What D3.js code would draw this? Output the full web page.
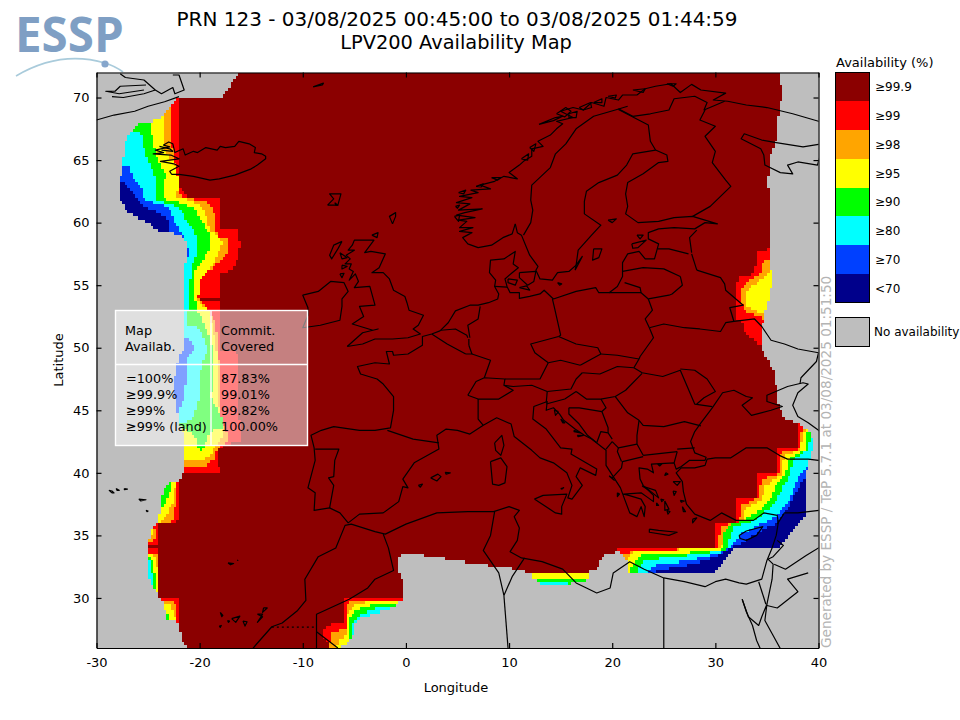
<!DOCTYPE html>
<html>
<head>
<meta charset="utf-8">
<script src="https://cdn.jsdelivr.net/npm/d3@7"></script>
<style>
  html, body { margin: 0; padding: 0; background: #fff; }
  text { font-family: "DejaVu Sans", sans-serif; fill: #000; }
</style>
</head>
<body>
<svg id="chart" width="960" height="720"></svg>
<script>
// Legend
const legendLabels = ["≥99.9", "≥99", "≥98", "≥95", "≥90", "≥80", "≥70", "<70"];
const legendColors = ["#8b0000", "#ff0000", "#ffa500", "#ffff00", "#00ff00", "#00ffff", "#0040ff", "#00008b"];
const noDataColor = "#bebebe";

// Summary table
const tableAvail = ["=100%", "≥99.9%", "≥99%", "≥99% (land)"];
const tableCommit = ["87.83%", "99.01%", "99.82%", "100.00%"];

// Axis ticks
const lonTicks = [-30, -20, -10, 0, 10, 20, 30, 40];
const latTicks = [30, 35, 40, 45, 50, 55, 60, 65, 70];

// Outline of the area with availability, [lon, lat]
const coverage = [[-16.2,72],[-17.8,70],[-22,70],[-22.6,69.6],[-23.5,68.5],[-24.9,68],[-26,68],[-26.7,67.2],[-27.2,66.4],[-27.5,64.6],[-27.7,63.4],[-27.7,61.9],[-26.9,60.8],[-25,60],[-24,59.4],[-23,59.2],[-21.8,59],[-21.3,58.4],[-21.3,57.2],[-21.5,56],[-21.5,53.8],[-21.4,53],[-21.5,50],[-22,49.2],[-22.4,47.6],[-22.4,46],[-22,44.2],[-21.5,42.8],[-21.6,40],[-22.1,39.15],[-23.1,39.15],[-23.7,38.2],[-23.8,37],[-24,36.2],[-24.2,36],[-24.8,35.2],[-25,34],[-25.1,33.2],[-25,31.6],[-24.4,30.8],[-24,30.2],[-23.7,29.9],[-23.1,28.2],[-22,28.1],[-21.8,26.8],[-21.1,26],[-6.6,26],[-5.8,26.4],[-5,27.2],[-5,28],[-4.4,28.4],[-2.7,28.8],[-1.2,29.2],[-0.3,29.9],[-0.2,30],[-0.3,31.2],[-0.8,32.4],[-0.7,33.2],[0,33.6],[2.4,33.3],[6.3,32.8],[10.2,32.4],[12.1,32],[12.3,31.6],[13.1,31.1],[15.8,31.1],[17.7,31.4],[17.7,32.1],[18.7,32.4],[18.9,33.2],[19.7,33.6],[20.2,33.6],[20.6,33.9],[20.9,33.6],[21.4,32.9],[21.4,32],[29.9,32],[31.8,33.9],[36.1,33.9],[38.8,36.8],[38.8,40],[39.1,41],[39.6,42.4],[39.1,43.2],[38.1,44],[36.7,44.3],[36.2,45.2],[35.9,46.8],[35.8,48],[34.7,49.6],[34.4,50.6],[34.7,52.4],[35.6,55.4],[35.3,56.4],[35.3,60.2],[35.1,63.2],[35.2,65.2],[35.9,66.6],[36.2,69.2],[36.6,70.4],[36.1,72]];

// Areas below each availability level, [lon, lat] corners
const redAreas = [
  [[-22,70.2],[-22,63],[-21,62],[-18.1,61.9],[-18.1,59.6],[-16.3,59.5],[-16.1,58.4],[-16.2,57.2],[-16.8,56.2],[-18,56],[-18.1,54.1],[-20.1,54.1],[-20.1,53.8],[-18.1,53.8],[-18,53],[-17.9,49.8],[-16.2,49.6],[-16.1,42.6],[-18.2,42],[-18.1,40],[-30,40],[-30,70.2]],
  [[-22.1,39.2],[-22.1,36.2],[-22.3,36],[-30,36],[-30,39.2]],
  [[-24,36.1],[-24,34.2],[-30,34.2],[-30,36.1]],
  [[-24,33.9],[-24,30],[-30,30],[-30,33.9]],
  [[-22,29.9],[-22,28.1],[-30,28.1],[-30,29.9]],
  [[-5.9,29.9],[0.5,29.9],[0.5,26],[-7.2,26],[-7.9,26.7],[-7.9,27.5],[-7.3,27.9],[-5.9,27.9]],
  [[38.1,44.2],[38.1,41.9],[36,41.9],[36,39.9],[34,39.9],[33.9,37.9],[32.1,37.9],[32.1,35.9],[30,35.9],[30,33.9],[20.5,33.9],[20.5,31],[41,31],[41,44.2]],
  [[35.2,57.9],[34.1,57.75],[33.9,56.7],[33.8,55.9],[32.15,55.7],[32,53.3],[32,52.3],[32.6,52.1],[32.8,51.4],[34,50.3],[34.4,50.2],[34.7,50],[37,50],[37,57.9]]
];
const orangeAreas = [
  [[-22.7,70],[-22.7,66.6],[-22.5,65.2],[-22.2,64.2],[-22.1,62.9],[-22.1,62.6],[-21.6,62],[-20.6,61.9],[-19.2,61.6],[-18.6,60.8],[-18.6,59.6],[-18.1,58.8],[-17.2,58.6],[-17.2,57.6],[-18.1,56.8],[-19.1,56.2],[-19.9,55.4],[-20.2,54.2],[-20,53.8],[-19.4,53.2],[-18.5,52.2],[-18.2,49.8],[-18,47.4],[-18,44.6],[-17.4,43.4],[-17.2,42.5],[-18.3,42],[-18.5,41.2],[-19.4,40.6],[-20.9,40.5],[-30,40.5],[-30,70]],
  [[-22.15,39.2],[-22.3,37.5],[-22.5,36.6],[-22.7,36.1],[-30,36.1],[-30,39.2]],
  [[-24.15,35.6],[-24.3,34.8],[-24.7,34.4],[-30,34.4],[-30,35.6]],
  [[-24.1,33.5],[-24,33.1],[-24,30.2],[-30,30.2],[-30,33.5]],
  [[-22.4,29.7],[-22.2,28.5],[-22.2,28.1],[-30,28.1],[-30,29.7]],
  [[-5.7,29.4],[-5.3,29.7],[0.5,29.7],[0.5,26],[-7.5,26],[-7.4,26.5],[-7.1,27.2],[-6.3,27.4],[-5.7,27.4]],
  [[38.4,43.8],[38.3,41.9],[36.5,41.7],[36.2,41.3],[36.2,39.9],[34.5,39.5],[34.2,38],[32.5,37.4],[32.3,36.1],[30.5,35.7],[30.2,33.9],[22.3,33.85],[22.1,33.7],[21,33.35],[20.8,32.7],[20.8,31],[41,31],[41,43.8]],
  [[35.4,57.2],[34.7,56.9],[34.4,55.9],[33.3,55.4],[32.5,54.7],[32.4,53.8],[33,52.9],[33.9,52.6],[34.7,52.3],[34.7,51.7],[37,51.7],[37,57.2]]
];
const yellowAreas = [
  [[-23.5,68.4],[-23.5,66],[-23,65.2],[-22.5,64.8],[-22.1,63.6],[-22.1,62.6],[-22.4,62],[-20.6,61.8],[-19.9,61.2],[-19.2,60.4],[-19.1,59.5],[-18.6,59.2],[-17.8,58.4],[-18.6,56.8],[-19.9,55.6],[-20.1,54.4],[-20.3,53.8],[-19.1,53],[-18.4,50.2],[-18.2,45.8],[-17.9,43.8],[-17.7,43],[-18.7,42],[-18.9,41.4],[-19.9,40.9],[-20.9,41],[-30,41],[-30,68.4]],
  [[-22.3,39.2],[-22.6,37.5],[-23.3,36.6],[-23.9,36.1],[-30,36.1],[-30,39.2]],
  [[-24.35,35.6],[-24.5,35],[-30,35],[-30,35.6]],
  [[-24.6,33.5],[-24.25,33],[-24.05,32.3],[-24,30.2],[-30,30.2],[-30,33.5]],
  [[-22.9,29.5],[-22.4,28.8],[-22.3,28.1],[-30,28.1],[-30,29.5]],
  [[-5.75,28.5],[-5.3,29.2],[-4.6,29.5],[-3.5,29.75],[0.5,29.75],[0.5,26],[-6.8,26],[-6.5,26.6],[-5.8,27]],
  [[11,31.95],[18,31.95],[18,30],[11,30]],
  [[38.7,43.5],[38.2,41.8],[36.7,41.4],[36.4,39.8],[34.9,39],[34.5,37.85],[32.8,37],[32.6,36.1],[30.9,35.4],[30.5,33.9],[22.3,33.85],[21.65,33.3],[21.4,33],[21.4,31],[41,31],[41,43.5]],
  [[35.45,56.5],[35,55.8],[34.25,55.4],[33.3,54.7],[32.9,54],[33.1,53.3],[33.9,52.95],[34.7,52.6],[37,52.6],[37,56.5]]
];
const greenAreas = [
  [[-24.9,68],[-24.5,66.4],[-24,64.8],[-23.3,64],[-23.5,62.6],[-23.5,61.9],[-22.5,61.8],[-20.6,61.2],[-19.4,59.6],[-19.1,59.2],[-18.9,58],[-19.7,57],[-20.4,56.2],[-20.5,54.4],[-20.2,53],[-19.2,51.2],[-18.7,49.8],[-18.9,46],[-17.7,44.2],[-17.7,43.6],[-18.7,43.6],[-19.2,42.8],[-19.8,41.8],[-20,41.8],[-20.4,42.8],[-21.2,43.4],[-30,43.4],[-30,68]],
  [[-22.8,39.2],[-22.8,38.6],[-23.3,37.5],[-23.8,37],[-30,37],[-30,39.2]],
  [[-25,33.4],[-24.6,33],[-24.35,32],[-24.3,31],[-24.2,30.4],[-30,30.4],[-30,33.4]],
  [[-23.5,29.1],[-22.9,28.4],[-22.6,28.1],[-30,28.1],[-30,29.1]],
  [[-5.8,26.5],[-5.5,26.5],[-5.5,28.4],[-5,28.9],[-4.2,29.2],[-3,29.5],[0.5,29.6],[0.5,26],[-5.8,26]],
  [[11,31.6],[17.8,31.6],[17.8,30],[11,30]],
  [[38.9,43.4],[38.7,41.9],[37.15,41.1],[36.8,39.9],[35.7,38.7],[35.05,37.5],[33.4,36.5],[31.3,35.8],[30.85,35.1],[30.7,34.05],[30.2,33.7],[22.8,33.5],[22,32.7],[21.6,31.9],[21.6,31],[41,31],[41,43.4]]
];
const cyanAreas = [
  [[-25.7,67.2],[-25.5,66.4],[-25,65],[-24.2,63.4],[-24.2,61.9],[-22.1,61.2],[-20.7,59.6],[-20.4,59],[-20.1,58],[-20.6,56.8],[-20.9,55.4],[-21,53.6],[-21.2,52.8],[-21.3,51.8],[-20.1,51.6],[-19.2,50],[-19.9,48.2],[-20.1,46],[-20.2,45.2],[-20.9,44.2],[-22,44],[-30,44],[-30,67.2]],
  [[-23.3,39.2],[-23.6,38.2],[-30,38.2],[-30,39.2]],
  [[-25,33.2],[-24.9,33],[-24.6,32],[-24.5,30.9],[-30,30.9],[-30,33.2]],
  [[-5.2,26.8],[-5.2,28],[-4.6,28.6],[-3.5,29],[-2,29.3],[0.5,29.4],[0.5,26.8]],
  [[11,31.3],[15.8,31.3],[15.8,30],[11,30]],
  [[39.25,43.1],[39,41.9],[37.5,40.9],[37.15,39.8],[36.2,38.3],[35.5,37.3],[33.8,36.2],[31.8,35.7],[31.35,34.7],[31.1,33.85],[28.75,33.5],[23.1,33],[22.45,32.3],[22.3,31.8],[22.3,31],[41,31],[41,43.1]]
];
const blueAreas = [
  [[-26.9,64.6],[-26.4,63.6],[-25.4,62.6],[-25.4,61.9],[-23,61.2],[-22.1,59.6],[-21.4,58.6],[-21,57.8],[-21.1,57.2],[-30,57.2],[-30,64.6]],
  [[-21.5,50.8],[-20.8,50.6],[-20.4,50],[-21.3,49],[-21.3,47.4],[-21.5,46],[-22.1,44.8],[-30,44.8],[-30,50.8]],
  [[-2.6,28.9],[-1.5,29.1],[-0.8,29.4],[0.5,29.4],[0.5,28],[-2.6,28]],
  [[39.5,42.2],[39.1,40.9],[38,39.5],[37.15,37.9],[36.2,36.7],[34.4,35.9],[32.5,35.1],[31.8,34.3],[30.7,33.65],[27.6,33],[24.1,32.6],[23.3,31.9],[23.3,31],[41,31],[41,42.2]]
];
const navyAreas = [
  [[-27.2,63.2],[-26.5,62.4],[-25.9,61.8],[-25.4,61.2],[-24.4,61],[-23,60.2],[-22.9,59.2],[-30,59.2],[-30,63.2]],
  [[39,40.6],[38.8,39.8],[37.6,38.1],[36.7,36.7],[35.7,35.9],[33.8,35],[31.8,34.1],[30.2,33.3],[28,32.75],[25,32.3],[23.2,31.9],[23.2,31],[41,31],[41,40.6]]
];

// Coastlines, [lon, lat]
const coastLines = [
  // Greenland
  [[-30,68.2],[-28.3,68.6],[-26.3,68.9],[-25,69.3],[-23.4,69.66],[-22,70.07]],
  [[-27.7,71.9],[-27.2,71.6],[-25.4,71.4],[-24.3,70.6],[-23.7,70.3],[-22.6,70.8],[-22.4,70.3],[-21.5,70.6],[-22,71.8],[-22.6,71.8]],
  [[-25.2,71],[-27.7,70.9],[-28.2,70.5],[-29.1,70.5],[-27.8,70.3],[-25.4,70.6]],
  [[-28.5,70.07],[-27.4,70],[-25.4,70.3],[-24.3,70.6]],
  // Jan Mayen
  [[-9,70.85],[-8,71.15],[-8.1,71],[-9,70.85]],
  // Iceland
  [[-22.7,63.85],[-22,63.85],[-20.6,63.7],[-19,63.4],[-18.1,63.5],[-16.6,63.8],[-15,64.3],[-14.4,64.6],[-13.6,65.1],[-13.6,65.3],[-14,65.5],[-14.7,65.6],[-14.6,66],[-15.2,66.3],[-16.2,66.5],[-16.6,66.1],[-17.5,66],[-18,66.1],[-18.3,65.8],[-19.4,66],[-20.2,65.6],[-20.6,65.7],[-21.4,65.4],[-21.6,65.9],[-22.4,65.6],[-22.6,66.3],[-23,66.45],[-23.5,66.2],[-22.9,66.05],[-24.3,65.8],[-23.5,65.6],[-24.5,65.5],[-22.8,65.4],[-22,65.1],[-23.8,64.9],[-22.5,64.7],[-22,64.5],[-22.9,64.1],[-22.7,63.85]],
  [[-23.9,66.1],[-22.9,65.9],[-22.6,65.7],[-23.7,65.8]],
  // Faroes, Shetland, Orkney
  [[-7.6,61.4],[-7,61.9],[-7.4,62.3],[-6.3,62.3],[-6.6,61.4],[-7.6,61.4]],
  [[-6.9,61.6],[-6.6,61.4],[-6.8,61.4],[-6.9,61.6]],
  [[-1.3,59.9],[-1,60.5],[-1,60.8],[-1.6,60.5],[-1.3,59.9]],
  [[-3.3,59],[-2.7,59.2],[-2.8,58.8],[-3.3,59]],
  // Great Britain
  [[-5.7,50.1],[-4.2,50.3],[-3,50.7],[-1.3,50.7],[0.2,50.8],[1.4,51.1],[0.7,51.5],[1.2,51.8],[1.7,52.6],[0.3,53],[0.1,53.6],[-0.1,54.1],[-1.2,54.6],[-1.6,55.5],[-2.2,56],[-3.3,56],[-2.6,56.4],[-2,57.5],[-3.4,57.7],[-4,57.6],[-3.1,58.6],[-5,58.6],[-5.2,58.2],[-5.6,57.8],[-5,57.8],[-5.8,57.4],[-5.4,57.1],[-5.9,56.7],[-5.3,56.7],[-5.5,56.3],[-5.1,56.1],[-5.5,55.4],[-4.9,55.9],[-4.6,55.3],[-5,54.8],[-3.5,54.9],[-3.2,54],[-3,53.4],[-4.5,53.3],[-4.1,52.5],[-5.2,51.9],[-3.2,51.4],[-2.7,51.5],[-4.2,51.2],[-5.7,50.1]],
  // Hebrides and Skye
  [[-6.2,58.5],[-7,58.2],[-7.4,57.4],[-7.2,57.1],[-6.6,57.9],[-6.2,58.5]],
  [[-6.4,57.6],[-5.7,57.2],[-6.2,57.1],[-6.4,57.6]],
  [[-6.2,56.6],[-5.7,56.5],[-6.2,56.3],[-6.2,56.6]],
  [[-6.4,55.9],[-6,55.95],[-6.2,55.6],[-6.4,55.9]],
  // Ireland
  [[-6.2,53.3],[-6.4,52.2],[-8.3,51.8],[-10,51.6],[-9.5,52.6],[-9.5,53.2],[-10,54.2],[-8.5,54.5],[-7.3,55.3],[-6,55.2],[-5.6,54.5],[-6.2,53.9],[-6.2,53.3]],
  // Norway, Kola and the White Sea
  [[10.6,59.9],[10.3,59.1],[9.4,58.8],[8.3,58.2],[7,58],[6,58.3],[5.5,58.8],[6.4,59.2],[5.2,59.3],[6.5,59.6],[5.2,59.6],[5.9,60.1],[5.1,60.2],[6.7,60.4],[4.9,60.6],[5.7,60.8],[7.4,61.1],[5.1,61],[6.2,61.5],[4.9,61.6],[6.4,62],[5.2,62.1],[7,62.4],[6.3,62.6],[8.2,62.7],[7.2,63],[8.6,63.3],[9.5,63.7],[10.8,63.5],[10,64],[11,64.6],[11.4,64.9],[12.2,65.3],[12.2,65.9],[13.3,66.1],[12.8,66.5],[14,67],[14.6,67.5],[15.2,67.9],[14.6,68.1],[16.2,68.4],[15,68.9],[16.2,69.2],[17.2,69],[18,69.6],[19.2,69.3],[19.4,70],[20.6,69.8],[21,70.2],[22.4,70.2],[23.2,70.7],[24.2,70.9],[25.7,71.1],[26.6,70.4],[27.7,71.05],[28.6,70.6],[31,70.35],[29.8,69.8],[31.2,69.7],[33,69.4],[35,69.2],[37.5,68.7],[40,68.1],[41,67.6]],
  [[41,66.2],[40,66.25],[38.5,66.05],[35.9,66.4],[34.5,66.6],[32.8,67.1],[32.5,66.7],[34.4,65.9],[34.7,65.4],[34.8,64.6],[36.3,64],[37.5,63.9],[37,64.6],[38,64.85],[39.9,64.6],[40.2,65.5],[41,66.2]],
  // Islands off Norway
  [[12.9,67.85],[14.5,68.4],[15.2,68.5],[14.3,68.15],[12.9,67.85]],
  [[14.6,68.7],[15.5,69.2],[16,68.9],[15.4,68.45],[14.6,68.7]],
  [[15.8,68.7],[16.6,68.9],[16.5,68.4],[15.8,68.4],[15.8,68.7]],
  [[16.8,69.2],[17.9,69.6],[18,69.2],[17.2,69],[16.8,69.2]],
  [[18.2,69.6],[19,69.9],[19,69.6],[18.2,69.6]],
  [[19.6,70.1],[20.4,70.2],[20.3,69.95],[19.6,70.1]],
  [[22,70.6],[23.2,70.7],[23,70.4],[22,70.6]],
  [[25.3,71.1],[26.2,71.1],[25.9,70.9],[25.3,71.1]],
  [[8.3,63.6],[9.2,63.6],[8.9,63.4],[8.3,63.6]],
  [[12,66],[12.6,66.3],[12.4,65.7],[12,66]],
  [[11.2,65.1],[11.9,65.5],[11.8,65],[11.2,65.1]],
  [[4.8,61.3],[5.2,61.4],[5,61.15],[4.8,61.3]],
  [[4.7,60.5],[5.2,60.6],[5.1,60.1],[4.7,60.5]],
  [[5.1,62.4],[5.8,62.6],[5.6,62.3],[5.1,62.4]],
  [[6.8,62.9],[7.5,63.1],[7.3,62.85],[6.8,62.9]],
  // Sweden, Finland and the Baltic shore, round Denmark to Spain, Italy and Greece
  [[10.6,59.9],[10.8,59.2],[11.2,59],[11.7,58],[12,57.4],[12.8,56.5],[12.6,56.2],[13,55.5],[14.2,55.4],[14.7,56],[15.8,56.1],[16.5,56.6],[16.7,57.8],[18,59],[18.9,59.8],[17.3,60.7],[17.3,61.7],[17.5,62.5],[18.7,63.2],[20.5,63.8],[21.4,64.6],[22,65.5],[24.2,65.8],[25.3,65.4],[25.4,64.9],[24.5,64.8],[23,63.9],[21.5,63.2],[21.3,62.3],[21.5,61.3],[21.3,60.7],[22.5,60],[24.5,60.1],[26,60.4],[27.8,60.5],[29,60.2],[30.2,59.9],[29,60],[28,59.5],[26,59.6],[24.5,59.5],[23.5,59.2],[23.5,58.7],[24.5,58.3],[24.1,57.1],[23.2,57.1],[22.6,57.7],[21.5,57.5],[21,56.8],[21,55.7],[20.5,54.9],[19.7,54.4],[18.7,54.4],[18.4,54.8],[16.5,54.5],[14.3,53.9],[13.4,54.6],[13,54.3],[12,54.1],[11,53.95],[11,54.4],[10.1,54.4],[9.8,54.9],[9.6,55.5],[10.3,56],[10.9,56.4],[10.4,56.7],[10.6,57.7],[9.5,57.1],[8.2,57],[8.1,56],[8.7,55.4],[8.6,54.9],[9,54.3],[8.9,53.9],[8,53.6],[7,53.4],[6.2,53.4],[4.8,52.95],[4.1,52],[3.3,51.35],[2.5,51.1],[1.6,50.9],[1.6,50.2],[0.2,49.5],[-1.2,49.4],[-1.3,49.7],[-1.9,49.7],[-1.6,48.7],[-3,48.8],[-4.7,48.5],[-4.4,47.9],[-2.8,47.5],[-2.2,47.1],[-1.2,46.1],[-1.2,45],[-1.5,43.6],[-3,43.4],[-4.5,43.4],[-7,43.7],[-8.2,43.4],[-9.2,43],[-8.9,42],[-8.8,41],[-9.5,38.8],[-8.8,38.4],[-8.9,37],[-7.4,37.2],[-6.4,36.8],[-5.6,36],[-4.5,36.7],[-2.2,36.8],[-0.7,37.7],[-0.3,38.9],[0.2,38.8],[-0.3,39.5],[0.8,40.8],[3.2,41.9],[3,43],[3.9,43.5],[5,43.4],[6.2,43.1],[7.5,43.8],[8.8,44.4],[10.2,43.9],[10.5,42.9],[12.2,41.8],[13,41.2],[14.3,40.8],[15.6,40],[16.1,39],[15.7,38],[16.1,37.9],[17.1,39],[16.5,39.7],[16.9,40.4],[18.4,39.8],[18.5,40.3],[16,41.5],[16.1,41.9],[15,42],[13.6,43.5],[12.3,44.3],[12.4,45.3],[13.7,45.7],[13.6,45],[14.3,45.2],[14.9,44.7],[15.3,44.2],[16.4,43.5],[17.3,43],[18,42.7],[19.4,41.8],[19.4,40.6],[20.1,39.7],[20.8,38.8],[21.2,37.9],[21.7,36.8],[22.4,36.5],[22.8,37.3],[23.1,36.5],[23.2,37.3],[22.8,37.9],[21.6,38.2],[21.1,38.3],[22.8,38.4],[23.5,38],[24,37.7],[24,38.2],[23,39],[22.7,39.5],[22.6,40.4],[23.4,40.3],[24,40],[23.8,40.7],[26,40.8],[26.2,40.3],[26.7,40.5],[27.5,41],[29,41],[29.1,41.25],[28,41.6],[27.6,42.5],[28,43.3],[28.6,44],[29.7,45.2],[30.7,46.4],[31.8,46.6],[33,46.1],[33.6,46],[32.6,45.4],[33.5,44.6],[35.4,45],[36.5,45.3],[35,45.7],[35,46.2],[37,46.9],[38.5,47.2],[39,47.1],[38,46.4],[37.5,45.4],[38,44.5],[39,44],[40,43.4],[41,42.7]],
  // Turkey and the Levant, round Africa to the Atlantic
  [[41,41],[40,41],[39,41.1],[37,41.1],[36.2,41.4],[35,42],[33,42],[31.5,41.2],[30,41.2],[29.2,41.1],[29,40.6],[28,40.4],[26.7,40.4],[26.2,40],[26.8,39.3],[26.9,38.5],[27.2,37.5],[28,36.7],[29.5,36.2],[30.6,36.8],[32,36.2],[33.7,36.2],[34.7,36.8],[36,36.6],[36.1,36],[35.9,35],[35.5,34],[35,33],[34.5,31.5],[33,31.1],[32.3,31.2],[31,31.5],[30,31.3],[29,30.9],[27,31.3],[25,31.6],[23.1,32.3],[21.7,32.9],[20.1,32],[19.8,30.8],[18.5,30.4],[16.5,31.2],[15.2,32.3],[13.2,32.9],[11.2,33.2],[10.1,33.7],[10.8,34.6],[11,35.6],[10.5,36.5],[11,37],[10,37.3],[8.5,36.9],[6,36.9],[3,36.8],[0,35.9],[-2,35.1],[-3,35.3],[-5.3,35.9],[-5.9,35.8],[-6.8,34],[-8.5,33.3],[-9.8,31.5],[-9.7,29.8],[-10.5,29],[-12,28],[-13,27.7],[-14.5,26.3],[-14.9,25.9]],
  // Gulf of Suez and Aqaba
  [[32.6,29.9],[33,28.9],[33.6,27.8],[34,26.6],[34.6,25.5]],
  [[32.6,29.9],[33.2,28.5],[34.2,27.8],[34.5,28.5],[35,29.5],[34.8,28.2],[35.6,27],[36.6,25.5]],
  // Danish and Baltic islands
  [[11,56],[12.6,56.1],[12.4,55.3],[11.8,55],[11,55.6],[11,56]],
  [[9.9,55.5],[10.8,55.4],[10.6,55],[9.9,55.2],[9.9,55.5]],
  [[11,54.8],[12,54.6],[11.7,54.95],[11,54.8]],
  [[14.7,55.2],[15.1,55.1],[14.9,55],[14.7,55.2]],
  [[18.2,57.9],[19,57.9],[18.7,57.2],[18.1,57],[18.2,57.9]],
  [[16.4,56.2],[17.1,57.3],[16.5,56.6],[16.4,56.2]],
  [[21.9,58.3],[23.3,58.6],[22.5,58],[22,57.95],[21.9,58.3]],
  [[22.4,59],[23,59],[22.7,58.7],[22.4,59]],
  [[19.6,60.2],[20.4,60.3],[20,60],[19.6,60.2]],
  // Mediterranean islands
  [[12.45,37.9],[13.3,38.2],[15.6,38.3],[15.1,37.3],[15.1,36.7],[14.5,36.8],[12.45,37.9]],
  [[8.2,40.9],[9.2,41.2],[9.8,40.5],[9.6,39.2],[9,39],[8.4,39.1],[8.2,40.9]],
  [[8.6,42.4],[9.3,43],[9.5,42.2],[9.2,41.4],[8.7,41.8],[8.6,42.4]],
  [[2.4,39.6],[3.1,39.9],[3.4,39.7],[3,39.35],[2.4,39.6]],
  [[3.8,40.05],[4.3,40],[3.9,39.9],[3.8,40.05]],
  [[1.2,39],[1.6,39.1],[1.4,38.85],[1.2,39]],
  [[23.6,35.5],[24.5,35.4],[26.3,35.25],[25.5,35],[23.6,35.25],[23.6,35.5]],
  [[32.3,35],[33,35.35],[34.6,35.7],[34,35],[33,34.6],[32.4,34.75],[32.3,35]],
  [[22.9,38.95],[24.2,38.6],[24.5,38],[23.6,38.6],[22.9,38.95]],
  [[25.9,39.3],[26.6,39.3],[26.3,39],[25.9,39.3]],
  [[25.9,38.55],[26.2,38.5],[26,38.2],[25.9,38.55]],
  [[26.6,37.8],[27,37.75],[26.7,37.65],[26.6,37.8]],
  [[27.8,36.3],[28.2,36.4],[27.8,36],[27.8,36.3]],
  [[25.1,37.75],[25.5,37.1],[25.1,37],[25.1,37.75]],
  [[24.7,37.9],[25,37.85],[24.8,37.7],[24.7,37.9]],
  [[25.3,37],[25.6,36.9],[25.4,36.7],[25.3,37]],
  [[24.3,37.6],[24.5,37.4],[24.3,37.4],[24.3,37.6]],
  [[24.4,40.7],[24.8,40.7],[24.6,40.55],[24.4,40.7]],
  [[25.2,40],[25.4,39.9],[25.1,39.8],[25.2,40]],
  [[26.8,37.3],[27.1,36.9],[26.9,36.9],[26.8,37.3]],
  [[19.7,39.75],[20,39.6],[20.2,39.4],[19.7,39.75]],
  [[20.5,38.4],[20.7,38.3],[20.5,38.1],[20.5,38.4]],
  [[16.3,43.4],[16.9,43.2],[16.3,43.3],[16.3,43.4]],
  [[16.6,43],[17.2,43],[16.7,42.9],[16.6,43]],
  [[15,44.3],[15.4,44],[15.2,44],[15,44.3]],
  [[14.8,44.9],[14.5,44.6],[14.4,45],[14.8,44.9]],
  [[15,38.75],[15.3,38.8],[15.1,38.7],[15,38.75]],
  // Atlantic islands
  [[-28.8,38.6],[-28.5,38.55],[-28.3,38.4],[-28.5,38.4],[-28.8,38.6]],
  [[-27.3,38.75],[-27,38.7],[-27.3,38.65],[-27.3,38.75]],
  [[-28.1,38.75],[-27.8,38.6],[-28,38.6],[-28.1,38.75]],
  [[-25.9,37.9],[-25.2,37.85],[-25.7,37.75],[-25.9,37.9]],
  [[-25.2,37],[-25,36.95],[-25.1,36.9],[-25.2,37]],
  [[-17.25,32.8],[-16.7,32.75],[-17,32.65],[-17.25,32.8]],
  [[-16.35,33.05],[-16.3,33],[-16.35,33.05]],
  [[-18,28.85],[-17.75,28.6],[-17.85,28.5],[-18,28.85]],
  [[-18.1,27.75],[-17.9,27.8],[-18,27.65],[-18.1,27.75]],
  [[-17.3,28.2],[-17.1,28.15],[-17.2,28.05],[-17.3,28.2]],
  [[-16.9,28.35],[-16.1,28.55],[-16.5,28.05],[-16.9,28.35]],
  [[-15.8,28.15],[-15.4,28.1],[-15.6,27.75],[-15.8,28.15]],
  [[-14.4,28.7],[-13.9,28.7],[-14.4,28.05],[-13.9,28.5],[-14.4,28.7]],
  [[-13.8,29.2],[-13.45,29.2],[-13.9,28.85],[-13.8,29.2]]
];

// Country borders, [lon, lat]
const borderLines = [
  [[11.4,59],[12.1,60],[12.3,61],[12.1,61.8],[12.2,63],[14,64.4],[14.5,65.5],[15.5,66.3],[16.5,67.5],[18.2,68.5],[20.3,69],[21.5,69.3]],
  [[20.6,69.1],[22,68.5],[23.7,68.7],[25.5,69],[26,69.9],[28,70.1],[29.2,69.6],[28.9,69],[30.9,69.7]],
  [[20.6,69.05],[23.5,67.8],[23.7,66.5],[24.2,65.8]],
  [[29,69],[28.5,68.2],[30,67.7],[29,66.9],[30,65.7],[29.7,64.8],[31,63.4],[31.5,62.9],[29.5,61.3],[27.8,60.5]],
  [[28.2,59.4],[27.5,58.8],[27.7,57.6]],
  [[24.4,57.9],[25.5,57.9],[27.4,57.5]],
  [[27.7,57.5],[28.2,56.2]],
  [[21,56.1],[23,56.4],[25,56.3],[26.6,55.7]],
  [[26.6,55.7],[26.8,55],[25.8,54.3],[25.5,54.2],[23.5,53.9]],
  [[19.7,54.4],[22.8,54.4]],
  [[21.2,55.2],[22.7,54.8],[22.8,54.4],[23.5,53.9]],
  [[23.5,53.9],[23.9,53],[23.2,52.3],[23.6,51.6]],
  [[23.6,51.6],[24,50.8],[22.7,49.3],[22.6,49.1]],
  [[23.6,51.6],[25,51.9],[27,51.6],[28.5,51.5],[30.5,51.3],[31,52],[31.8,52.1]],
  [[28.2,56.2],[30.5,55.6],[30.9,55.1],[31,54.6],[32.7,53.4],[31.4,53.2],[31.8,52.1],[33.8,52.3],[34.5,51.7],[35.4,50.6],[36.7,50.3],[38,49.9],[40,49.6],[39.8,48.9],[38.3,47.6],[38.2,47.1]],
  [[14.2,53.9],[14.4,53.2],[14.7,52.1],[15,51],[14.8,50.9]],
  [[14.8,50.9],[12.1,50.3],[12.5,49.6],[13.8,48.8]],
  [[14.8,50.9],[16.5,50.3],[18.6,50],[18.9,49.5]],
  [[13.8,48.8],[15,49],[16.9,48.6]],
  [[16.9,48.6],[18.9,49.5]],
  [[18.9,49.5],[20.5,49.4],[22.6,49.1]],
  [[17.1,48],[18.8,47.9],[20.5,48.5],[22.1,48.4]],
  [[22.1,48.4],[22.6,49.1]],
  [[13.8,48.8],[13,47.5],[10.5,47.5],[9.6,47.5]],
  [[9.5,47],[10.4,46.9],[12.2,47],[13.7,46.5]],
  [[6,46.2],[6.8,47.3],[7.6,47.6],[9.6,47.5],[9.5,47],[10.4,46.6],[9,45.9],[7.8,45.9],[7,45.9],[6,46.2]],
  [[13.7,46.5],[16,46.7],[16.5,47.5],[17.1,48]],
  [[13.7,46.5],[13.6,45.6]],
  [[13.6,45.5],[15.4,45.9],[16.5,46.5]],
  [[16.5,46.5],[17.5,45.9],[18.9,45.9]],
  [[18.9,45.9],[20.3,46.1],[21.3,46.6],[22.9,47.95]],
  [[22.1,48.4],[22.9,48]],
  [[22.9,48],[24.9,47.7],[26.6,48.2],[28,45.5],[29.7,45.3]],
  [[26.6,48.3],[28,48.2],[29.2,47.5],[30,46.5],[28.9,46],[28.2,45.5]],
  [[20.3,46.1],[21.5,44.8],[22.6,44.2]],
  [[22.6,44.2],[23,43.8],[25,43.7],[27,44.1],[28.6,43.75]],
  [[22.6,44.2],[22.4,43],[22.4,42.3],[23,41.4]],
  [[23,41.4],[26.3,41.7]],
  [[26.3,41.9],[28,42]],
  [[26.3,41.7],[26,40.8]],
  [[23,41.3],[21,40.9],[20.9,40.4],[20,39.6]],
  [[20.9,40.9],[20.5,41.7],[20.6,42]],
  [[20,42.5],[19.4,41.9]],
  [[22.4,42.3],[20.6,42],[20,42.5]],
  [[19,44.9],[19.6,43.6],[19.6,43.2]],
  [[18.5,42.4],[18.9,43.3],[19.6,43.2],[20,42.7]],
  [[15.8,45.2],[16.8,45.2],[19,44.9]],
  [[15.8,45.2],[15.8,44.7],[16.8,43.9],[17.6,43],[18.5,42.4]],
  [[18.9,45.9],[19.4,45.2],[19,44.9]],
  [[8.6,54.9],[9.8,54.85]],
  [[7.2,53.3],[7,52.3],[6,51.8],[6.2,50.8]],
  [[3.4,51.4],[4.8,51.5],[5.9,51],[6,50.8]],
  [[6.1,50.7],[6.1,50.2]],
  [[2.5,51.1],[4,50.3],[5.8,49.5]],
  [[6.1,50.2],[6.4,49.5],[5.8,49.5]],
  [[6.4,49.5],[8.2,49],[7.6,47.6]],
  [[7,45.9],[7,44.3],[7.5,43.8]],
  [[-1.8,43.4],[0.7,42.7],[3.2,42.4]],
  [[-8.8,41.9],[-6.5,41.9],[-6.9,41],[-7,39.7],[-7.5,39.6],[-7,39],[-7.4,37.2]],
  [[-2.2,35.1],[-1.7,34],[-1.2,32.2],[-3,31.5],[-3.7,30.8],[-5.5,29.9],[-8.67,28.7],[-8.67,26]],
  [[-8.67,27.3],[-6.6,26]],
  [[8.6,36.9],[8.2,35],[7.5,33.8],[9,32],[9.5,30.2]],
  [[11.5,33.2],[10.3,31.7],[9.5,30.2]],
  [[9.5,30.2],[9.9,26]],
  [[25,31.6],[25,26]],
  [[34.2,31.3],[34.9,29.5]],
  [[35,29.5],[35.5,31.5],[35.6,32.7],[35.1,33.1]],
  [[35.1,33.1],[35.6,33.3],[36.6,34.2],[36,34.6]],
  [[35.7,32.7],[36.8,32.3],[38.8,33.4],[41,34.5]],
  [[39,32],[37,31.5],[38,30.5],[36,29.2],[35,29.4]],
  [[36,35.9],[36.7,36.8],[38,36.8],[41,37.1]]
];
const dashedBorder = [[-13,27.67],[-8.67,27.67]];

const svg = d3.select("#chart");
const margin = { top: 72.5, right: 141.5, bottom: 72, left: 96.5 };
const width = 960 - margin.left - margin.right;
const height = 720 - margin.top - margin.bottom;

const x = d3.scaleLinear().domain([-30, 40]).range([0, width]);
const y = d3.scaleLinear().domain([26, 72]).range([height, 0]);

// Logo
const logo = svg.append("g");
logo.append("path")
  .attr("d", "M16,76 Q60,50 105,63 Q115,66 123,72")
  .attr("fill", "none")
  .attr("stroke", "#a9cbdb")
  .attr("stroke-width", 1.6);
logo.append("circle").attr("cx", 105).attr("cy", 64).attr("r", 3.6).attr("fill", "#86a6cc");
logo.append("text")
  .attr("x", 15)
  .attr("y", 52)
  .style("font-family", "'Open Sans', sans-serif")
  .style("font-weight", 700)
  .style("font-size", "47.5px")
  .style("fill", "#7f9fc4")
  .text("ESSP");

svg.append("text").attr("x", 457).attr("y", 26).attr("text-anchor", "middle")
  .style("font-size", "20px").text("PRN 123 - 03/08/2025 00:45:00 to 03/08/2025 01:44:59");
svg.append("text").attr("x", 456).attr("y", 49).attr("text-anchor", "middle")
  .style("font-size", "19.4px").text("LPV200 Availability Map");

svg.append("defs").append("clipPath").attr("id", "plot-clip")
  .append("rect").attr("width", width).attr("height", height);

const plot = svg.append("g").attr("transform", `translate(${margin.left},${margin.top})`);
plot.append("rect").attr("width", width).attr("height", height).attr("fill", noDataColor);

// Turn the outlines into runs of 0.25 degree cells, one run per row and colour
const levelAreas = [redAreas, orangeAreas, yellowAreas, greenAreas, cyanAreas, blueAreas, navyAreas];
const step = 0.25;
const runs = [];
d3.range(26, 72, step).forEach((lat) => {
  let current = null;
  d3.range(-30, 40, step).forEach((lon) => {
    const p = [lon + step / 2, lat + step / 2];
    let level = -1;
    if (d3.polygonContains(coverage, p)) {
      level = 0;
      levelAreas.forEach((areas, i) => {
        if (areas.some((a) => d3.polygonContains(a, p))) level = i + 1;
      });
    }
    if (current && current.level === level) {
      current.lon1 = lon + step;
    } else {
      current = { level, lat, lon0: lon, lon1: lon + step };
      if (level >= 0) runs.push(current);
    }
  });
});

const map = plot.append("g").attr("clip-path", "url(#plot-clip)");

map.selectAll(".cell")
  .data(runs)
  .enter()
  .append("rect")
  .attr("class", "cell")
  .attr("x", (d) => x(d.lon0))
  .attr("y", (d) => y(d.lat + step))
  .attr("width", (d) => x(d.lon1) - x(d.lon0))
  .attr("height", (d) => y(d.lat) - y(d.lat + step))
  .attr("fill", (d) => legendColors[d.level])
  .attr("shape-rendering", "crispEdges");

const line = d3.line().x((d) => x(d[0])).y((d) => y(d[1]));

map.selectAll(".coast")
  .data(coastLines.concat(borderLines))
  .enter()
  .append("path")
  .attr("class", "coast")
  .attr("d", line)
  .attr("fill", "none")
  .attr("stroke", "#000")
  .attr("stroke-width", 1.2)
  .attr("stroke-linejoin", "round");

map.append("path")
  .attr("d", line(dashedBorder))
  .attr("fill", "none")
  .attr("stroke", "#000")
  .attr("stroke-width", 1.2)
  .attr("stroke-dasharray", "2,3");

// Axes, ticks point into the plot
const noLabel = () => "";
const styleAxis = (g) => {
  g.selectAll("path, line").attr("stroke", "#000").attr("stroke-width", 1.2);
  g.selectAll("text")
    .style("font-family", "'DejaVu Sans', sans-serif")
    .style("font-size", "13px")
    .attr("fill", "#000");
};
plot.append("g").attr("transform", `translate(0,${height})`)
  .call(d3.axisBottom(x).tickValues(lonTicks).tickSize(-5).tickSizeOuter(0).tickPadding(10).tickFormat((d) => String(d)))
  .call(styleAxis);
plot.append("g")
  .call(d3.axisTop(x).tickValues(lonTicks).tickSize(-5).tickSizeOuter(0).tickFormat(noLabel))
  .call(styleAxis);
plot.append("g")
  .call(d3.axisLeft(y).tickValues(latTicks).tickSize(-5).tickSizeOuter(0).tickPadding(7).tickFormat((d) => String(d)))
  .call(styleAxis);
plot.append("g").attr("transform", `translate(${width},0)`)
  .call(d3.axisRight(y).tickValues(latTicks).tickSize(-5).tickSizeOuter(0).tickFormat(noLabel))
  .call(styleAxis);

svg.append("text").attr("x", 456).attr("y", 692).attr("text-anchor", "middle")
  .style("font-size", "13px").text("Longitude");
svg.append("text").attr("transform", "translate(63,360) rotate(-90)").attr("text-anchor", "middle")
  .style("font-size", "13px").text("Latitude");

svg.append("text")
  .attr("transform", "translate(831,648) rotate(-90)")
  .style("font-size", "13.6px")
  .style("fill", "#b4b4b4")
  .text("Generated by ESSP / TeP 5.7.1 at 03/08/2025 01:51:50");

// Summary table on top of the map
const table = svg.append("g");
table.append("rect")
  .attr("x", 115.5).attr("y", 310.5).attr("width", 192).attr("height", 135)
  .attr("fill", "#fff").attr("fill-opacity", 0.5)
  .attr("stroke", "#fff").attr("stroke-width", 1.4);
table.append("line").attr("x1", 115.5).attr("x2", 307.5).attr("y1", 364.5).attr("y2", 364.5)
  .attr("stroke", "#fff").attr("stroke-width", 1.4);
table.append("line").attr("x1", 211).attr("x2", 211).attr("y1", 310.5).attr("y2", 445.5)
  .attr("stroke", "#fff").attr("stroke-width", 1.4);

const tableText = (tx, ty, s) => table.append("text").attr("x", tx).attr("y", ty).style("font-size", "12.8px").text(s);
tableText(125, 335, "Map");
tableText(125, 351, "Availab.");
tableText(221, 335, "Commit.");
tableText(221, 351, "Covered");
tableAvail.forEach((s, i) => tableText(126, 383 + i * 16, s));
tableCommit.forEach((s, i) => tableText(221, 383 + i * 16, s));

// Legend
const legendY = d3.scaleBand().domain(legendLabels).range([72.5, 302.5]);
const legend = svg.append("g");
legend.append("text").attr("x", 836).attr("y", 67).style("font-size", "13px").text("Availability (%)");
legend.selectAll(".swatch")
  .data(legendLabels)
  .enter()
  .append("rect")
  .attr("class", "swatch")
  .attr("x", 835.5)
  .attr("y", (d) => legendY(d))
  .attr("width", 34)
  .attr("height", legendY.bandwidth())
  .attr("fill", (d, i) => legendColors[i])
  .attr("shape-rendering", "crispEdges");
legend.append("rect").attr("x", 835.5).attr("y", 72.5).attr("width", 34).attr("height", 230)
  .attr("fill", "none").attr("stroke", "#000").attr("stroke-width", 1);
legend.selectAll(".swatch-label")
  .data(legendLabels)
  .enter()
  .append("text")
  .attr("class", "swatch-label")
  .attr("x", 875)
  .attr("y", (d) => legendY(d) + legendY.bandwidth() / 2 + 4.5)
  .style("font-size", "12px")
  .text((d) => d);
legend.append("rect").attr("x", 835.5).attr("y", 317.5).attr("width", 34).attr("height", 29)
  .attr("fill", noDataColor).attr("stroke", "#000").attr("stroke-width", 1);
legend.append("text").attr("x", 874).attr("y", 336).style("font-size", "12px").text("No availability");
</script>
</body>
</html>
